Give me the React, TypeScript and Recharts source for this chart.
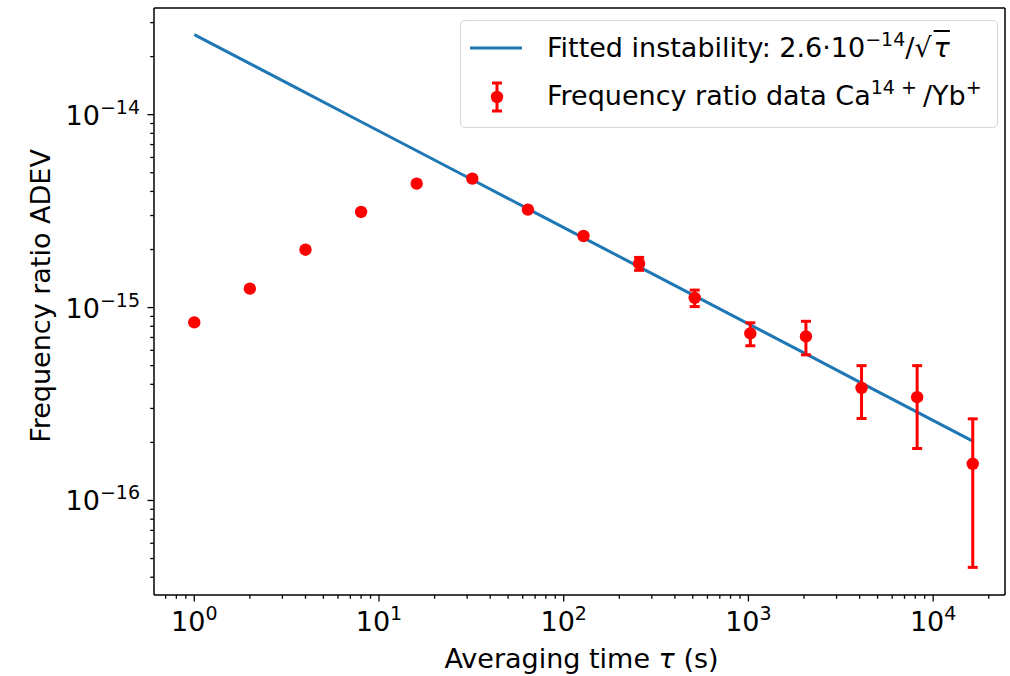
import {
  ComposedChart,
  Line,
  Scatter,
  ErrorBar,
  XAxis,
  YAxis,
  Label,
  Legend,
  ReferenceLine,
} from "recharts";

const FONT = "'DejaVu Sans', sans-serif";
const BLUE = "#1f77b4";
const RED = "#ff0000";

// averaging times (s)
const tau = [1, 2, 4, 8, 16, 32, 64, 128, 256, 512, 1024, 2048, 4096, 8192, 16384];
// measured frequency ratio ADEV
const adev = [
  8.38e-16, 1.254e-15, 1.995e-15, 3.13e-15, 4.39e-15, 4.66e-15, 3.22e-15, 2.35e-15,
  1.69e-15, 1.122e-15, 7.34e-16, 7.09e-16, 3.83e-16, 3.43e-16, 1.55e-16,
];
// symmetric error bars
const adevErr = [
  1e-17, 1.5e-17, 2e-17, 3e-17, 4e-17, 5e-17, 5e-17, 6e-17,
  1.3e-16, 1.1e-16, 1.0e-16, 1.4e-16, 1.17e-16, 1.57e-16, 1.1e-16,
];
// fitted instability 2.6e-14/sqrt(tau)
const fit = [
  2.6e-14, 1.84e-14, 1.3e-14, 9.19e-15, 6.5e-15, 4.6e-15, 3.25e-15, 2.3e-15,
  1.625e-15, 1.15e-15, 8.13e-16, 5.75e-16, 4.06e-16, 2.87e-16, 2.03e-16,
];

const xDecades = [-1, 0, 1, 2, 3, 4];
const yDecades = [-17, -16, -15, -14];
const minorSteps = [2, 3, 4, 5, 6, 7, 8, 9];

const X_DOMAIN: [number, number] = [Math.pow(10, -0.218), Math.pow(10, 4.389)];
const Y_DOMAIN: [number, number] = [Math.pow(10, -16.49), Math.pow(10, -13.447)];

const dataRows = tau.map((t, i) => ({ tau: t, y: adev[i], err: adevErr[i] }));
const fitRows = tau.map((t, i) => ({ tau: t, y: fit[i] }));

const buildTicks = (decades: number[], dom: [number, number]) => {
  const out: number[] = [];
  decades.forEach((d) => {
    const base = Math.pow(10, d);
    out.push(base);
    minorSteps.forEach((m) => out.push(m * base));
  });
  return out.filter((v) => v >= dom[0] && v <= dom[1]).sort((a, b) => a - b);
};
const xTicks = buildTicks(xDecades, X_DOMAIN);
const yTicks = buildTicks(yDecades, Y_DOMAIN);

const expOf = (v: number) => {
  const l = Math.log10(v);
  const e = Math.round(l);
  return { e, major: Math.abs(l - e) < 1e-6 };
};
const expText = (e: number) => (e < 0 ? "\u2212" + -e : String(e));

const XTick = (props: any) => {
  const { x, y, payload } = props;
  const { e, major } = expOf(payload.value);
  return (
    <g>
      <line x1={x} x2={x} y1={y} y2={y + (major ? 6.5 : 3.8)} stroke="#000" strokeWidth={1.3} />
      {major && (
        <text x={x} y={y + 36} textAnchor="middle" fontSize={27} fontFamily={FONT} fill="#000">
          10
          <tspan dy={-11} fontSize={19}>
            {expText(e)}
          </tspan>
        </text>
      )}
    </g>
  );
};

const YTick = (props: any) => {
  const { x, y, payload } = props;
  const { e, major } = expOf(payload.value);
  return (
    <g>
      <line x1={x - (major ? 6.5 : 3.8)} x2={x} y1={y} y2={y} stroke="#000" strokeWidth={1.3} />
      {major && (
        <text x={x - 14} y={y + 10} textAnchor="end" fontSize={27} fontFamily={FONT} fill="#000">
          10
          <tspan dy={-11} fontSize={19}>
            {expText(e)}
          </tspan>
        </text>
      )}
    </g>
  );
};

const XTitle = (props: any) => {
  const vb = props.viewBox;
  return (
    <text x={vb.x + vb.width / 2 + 2} y={668} textAnchor="middle" fontSize={27} fontFamily={FONT} fill="#000">
      Averaging time <tspan fontStyle="italic">τ</tspan> (s)
    </text>
  );
};

const YTitle = () => (
  <text
    x={0}
    y={0}
    transform="translate(50, 296) rotate(-90)"
    textAnchor="middle"
    fontSize={27}
    fontFamily={FONT}
    fill="#000"
  >
    Frequency ratio ADEV
  </text>
);

const Dot = (props: any) => <circle cx={props.cx} cy={props.cy} r={6.2} fill={RED} />;

const sup: React.CSSProperties = { fontSize: 19, position: "relative", top: -11 };

const LegendBox = () => (
  <div
    style={{
      position: "relative",
      boxSizing: "border-box",
      width: 538,
      height: 108,
      border: "1.5px solid #d6d6d6",
      borderRadius: 5,
      background: "rgba(255,255,255,0.85)",
      fontFamily: FONT,
      fontSize: 27,
      color: "#000",
      whiteSpace: "nowrap",
    }}
  >
    <svg width={538} height={108} style={{ position: "absolute", left: -1.5, top: -1.5 }}>
      <line x1={10} x2={62} y1={28} y2={28} stroke={BLUE} strokeWidth={3} />
      <line x1={37} x2={37} y1={63} y2={91} stroke={RED} strokeWidth={3} />
      <line x1={32} x2={42} y1={63} y2={63} stroke={RED} strokeWidth={3} />
      <line x1={32} x2={42} y1={91} y2={91} stroke={RED} strokeWidth={3} />
      <circle cx={37} cy={77} r={6.2} fill={RED} />
    </svg>
    <div style={{ position: "absolute", left: 86, top: 11, lineHeight: "32px" }}>
      Fitted instability: 2.6·10<span style={sup}>−14</span>/√
      <span style={{ fontStyle: "italic", textDecoration: "overline", paddingLeft: 2 }}>τ</span>
    </div>
    <div style={{ position: "absolute", left: 86, top: 59, lineHeight: "32px" }}>
      Frequency ratio data Ca<span style={sup}>14 + </span>/Yb<span style={sup}>+</span>
    </div>
  </div>
);

export default function App() {
  return (
    <div style={{ position: "fixed", left: 0, top: 0, width: 1010, height: 676, background: "#fff" }}>
      <ComposedChart width={1010} height={676} margin={{ top: 8, right: 5, bottom: 0, left: 0 }}>
        <XAxis
          dataKey="tau"
          type="number"
          scale="log"
          domain={X_DOMAIN}
          allowDataOverflow
          ticks={xTicks}
          interval={0}
          tick={<XTick />}
          tickLine={false}
          tickSize={0}
          tickMargin={0}
          height={81}
          axisLine={{ stroke: "#000", strokeWidth: 1.5 }}
        >
          <Label content={<XTitle />} />
        </XAxis>
        <YAxis
          type="number"
          scale="log"
          domain={Y_DOMAIN}
          allowDataOverflow
          ticks={yTicks}
          interval={0}
          tick={<YTick />}
          tickLine={false}
          tickSize={0}
          tickMargin={0}
          width={154}
          axisLine={{ stroke: "#000", strokeWidth: 1.5 }}
        >
          <Label content={<YTitle />} />
        </YAxis>
        <ReferenceLine x={X_DOMAIN[1]} stroke="#000" strokeWidth={1.5} ifOverflow="visible" />
        <ReferenceLine y={Y_DOMAIN[1]} stroke="#000" strokeWidth={1.5} ifOverflow="visible" />
        <Line
          data={fitRows}
          dataKey="y"
          stroke={BLUE}
          strokeWidth={3}
          dot={false}
          isAnimationActive={false}
        />
        <Scatter data={dataRows} dataKey="y" fill={RED} shape={<Dot />} isAnimationActive={false}>
          <ErrorBar dataKey="err" direction="y" width={5} stroke={RED} strokeWidth={3} isAnimationActive={false} />
        </Scatter>
        <Legend
          layout="horizontal"
          verticalAlign="middle"
          align="center"
          content={<LegendBox />}
          wrapperStyle={{ position: "absolute", left: 460, top: 20, width: 538, height: 108 }}
        />
      </ComposedChart>
    </div>
  );
}
